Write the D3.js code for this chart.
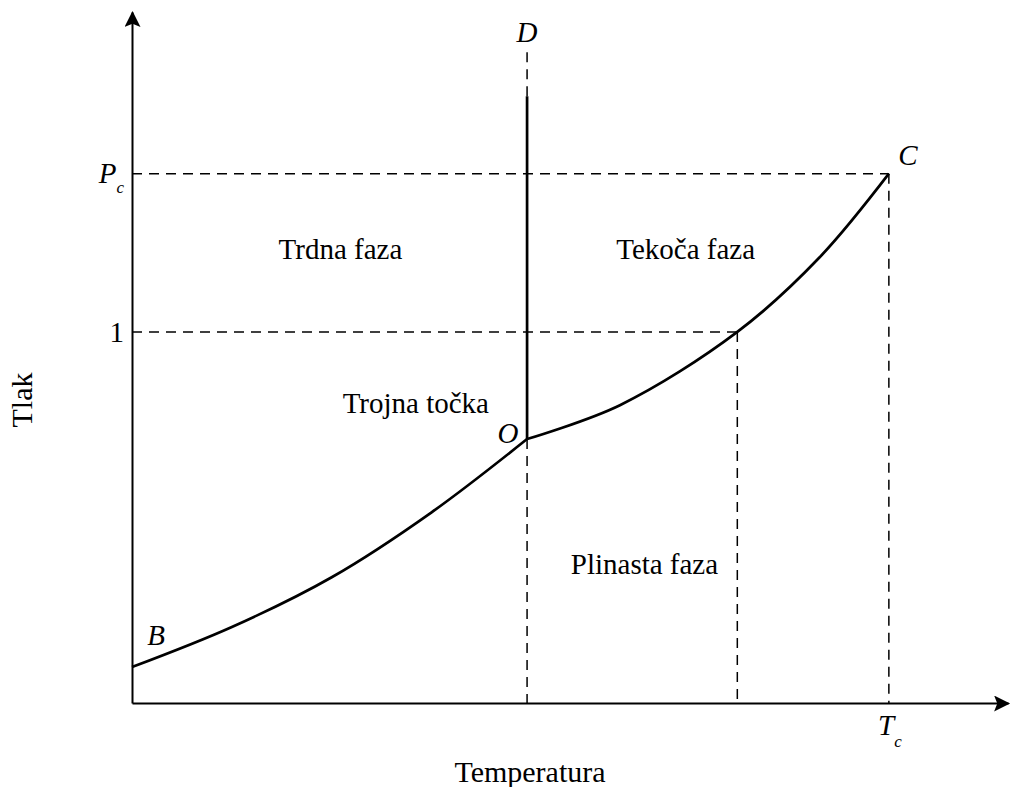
<!DOCTYPE html>
<html>
<head>
<meta charset="utf-8">
<script src="https://cdn.jsdelivr.net/npm/d3@7"></script>
<style>
  body { margin: 0; background: #fff; }
  svg { font-family: "Liberation Serif", "DejaVu Serif", serif; }
</style>
</head>
<body>
<svg width="1011" height="787"></svg>
<script>
// key points of the phase diagram (temperature, pressure), arbitrary units 0..100
const tripleT = 45.1, tripleP = 38.2;
const boilT = 69.1, boilP = 53.7;
const critT = 86.4, critP = 76.6;
const meltTopP = 87.8;
const dashTopP = 95.2;

// sublimation curve B -> O
const sublimation = [
  [0, 5.2], [11.4, 11.0], [22.8, 18.2], [34.2, 27.6], [45.1, 38.2]
];
// vaporisation curve O -> C
const vaporisation = [
  [45.1, 38.2], [55.7, 43.1], [69.1, 53.7], [78.5, 64.5], [86.4, 76.6]
];

const regionLabels = [
  {text: 'Trdna faza', t: 23.8, p: 64.3},
  {text: 'Tekoča faza', t: 63.2, p: 64.3},
  {text: 'Trojna točka', t: 32.4, p: 42.0},
  {text: 'Plinasta faza', t: 58.5, p: 18.7}
];

const svg = d3.select('svg');

const x = d3.scaleLinear().domain([0, 100]).range([132, 1008]);
const y = d3.scaleLinear().domain([0, 100]).range([703, 12]);

// arrow head for the axes
svg.append('defs').append('marker')
  .attr('id', 'arrow')
  .attr('viewBox', '0 0 10 10')
  .attr('refX', 9).attr('refY', 5)
  .attr('markerWidth', 17).attr('markerHeight', 16)
  .attr('markerUnits', 'userSpaceOnUse')
  .attr('orient', 'auto')
  .append('path')
  .attr('d', 'M0,0L10,5L0,10L2,5Z')
  .attr('fill', '#000');

const dash = '10,7';

function dashed(x1, y1, x2, y2) {
  svg.append('line')
    .attr('x1', x(x1)).attr('y1', y(y1))
    .attr('x2', x(x2)).attr('y2', y(y2))
    .attr('stroke', '#000')
    .attr('stroke-width', 1.5)
    .attr('stroke-dasharray', dash);
}

// dashed guide lines
dashed(0, critP, critT, critP);
dashed(critT, critP, critT, 0);
dashed(0, boilP, boilT, boilP);
dashed(boilT, boilP, boilT, 0);
dashed(tripleT, tripleP, tripleT, 0);
dashed(tripleT, meltTopP, tripleT, dashTopP);

// axes
const xAxis = svg.append('g')
  .attr('transform', `translate(0,${y(0)})`)
  .call(d3.axisBottom(x).tickValues([]).tickSizeOuter(0));
xAxis.select('.domain')
  .attr('stroke-width', 2)
  .attr('marker-end', 'url(#arrow)');

const yAxis = svg.append('g')
  .attr('transform', `translate(${x(0)},0)`)
  .call(d3.axisLeft(y).tickValues([boilP, critP]).tickSize(0).tickSizeOuter(0).tickPadding(14));
yAxis.select('.domain')
  .attr('stroke-width', 2)
  .attr('marker-end', 'url(#arrow)');
yAxis.selectAll('.tick text')
  .attr('font-family', '"Liberation Serif", serif')
  .attr('font-size', 29)
  .attr('fill', '#000')
  .each(function(d) {
    const t = d3.select(this);
    if (d === critP) {
      t.text('');
      t.attr('dx', 6);
      t.append('tspan').attr('font-style', 'italic').attr('font-size', 29).text('P');
      t.append('tspan').attr('font-style', 'italic').attr('font-size', 17).attr('dy', 10).text('c');
    } else {
      t.text('1').attr('dx', 6);
    }
  });

// curves
const line = d3.line()
  .x(d => x(d[0]))
  .y(d => y(d[1]))
  .curve(d3.curveCatmullRom.alpha(0.5));

svg.append('path')
  .datum(sublimation)
  .attr('d', line)
  .attr('fill', 'none')
  .attr('stroke', '#000')
  .attr('stroke-width', 2.7);

svg.append('path')
  .datum(vaporisation)
  .attr('d', line)
  .attr('fill', 'none')
  .attr('stroke', '#000')
  .attr('stroke-width', 2.7);

// melting line O -> up
svg.append('line')
  .attr('x1', x(tripleT)).attr('y1', y(tripleP))
  .attr('x2', x(tripleT)).attr('y2', y(meltTopP))
  .attr('stroke', '#000')
  .attr('stroke-width', 2.7);

// region labels
svg.selectAll('text.region')
  .data(regionLabels)
  .join('text')
  .attr('class', 'region')
  .attr('x', d => x(d.t))
  .attr('y', d => y(d.p))
  .attr('text-anchor', 'middle')
  .attr('font-size', 29)
  .text(d => d.text);

// point labels
const points = [
  {text: 'D', px: x(tripleT), py: 42},
  {text: 'O', px: x(tripleT) - 19, py: y(tripleP) + 4},
  {text: 'B', px: x(0) + 24, py: y(sublimation[0][1]) - 22},
  {text: 'C', px: x(critT) + 19, py: y(critP) - 9}
];
svg.selectAll('text.pt')
  .data(points)
  .join('text')
  .attr('class', 'pt')
  .attr('x', d => d.px)
  .attr('y', d => d.py)
  .attr('text-anchor', 'middle')
  .attr('font-style', 'italic')
  .attr('font-size', 29)
  .text(d => d.text);

// T_c under the axis
const tc = svg.append('text')
  .attr('x', x(critT) + 1)
  .attr('y', y(0) + 32)
  .attr('text-anchor', 'middle')
  .attr('font-style', 'italic');
tc.append('tspan').attr('font-size', 29).text('T');
tc.append('tspan').attr('font-size', 17).attr('dy', 12).text('c');

// axis titles
svg.append('text')
  .attr('x', 530)
  .attr('y', 782)
  .attr('text-anchor', 'middle')
  .attr('font-size', 30)
  .text('Temperatura');

svg.append('text')
  .attr('transform', 'translate(32,400) rotate(-90)')
  .attr('text-anchor', 'middle')
  .attr('font-size', 30)
  .text('Tlak');
</script>
</body>
</html>
